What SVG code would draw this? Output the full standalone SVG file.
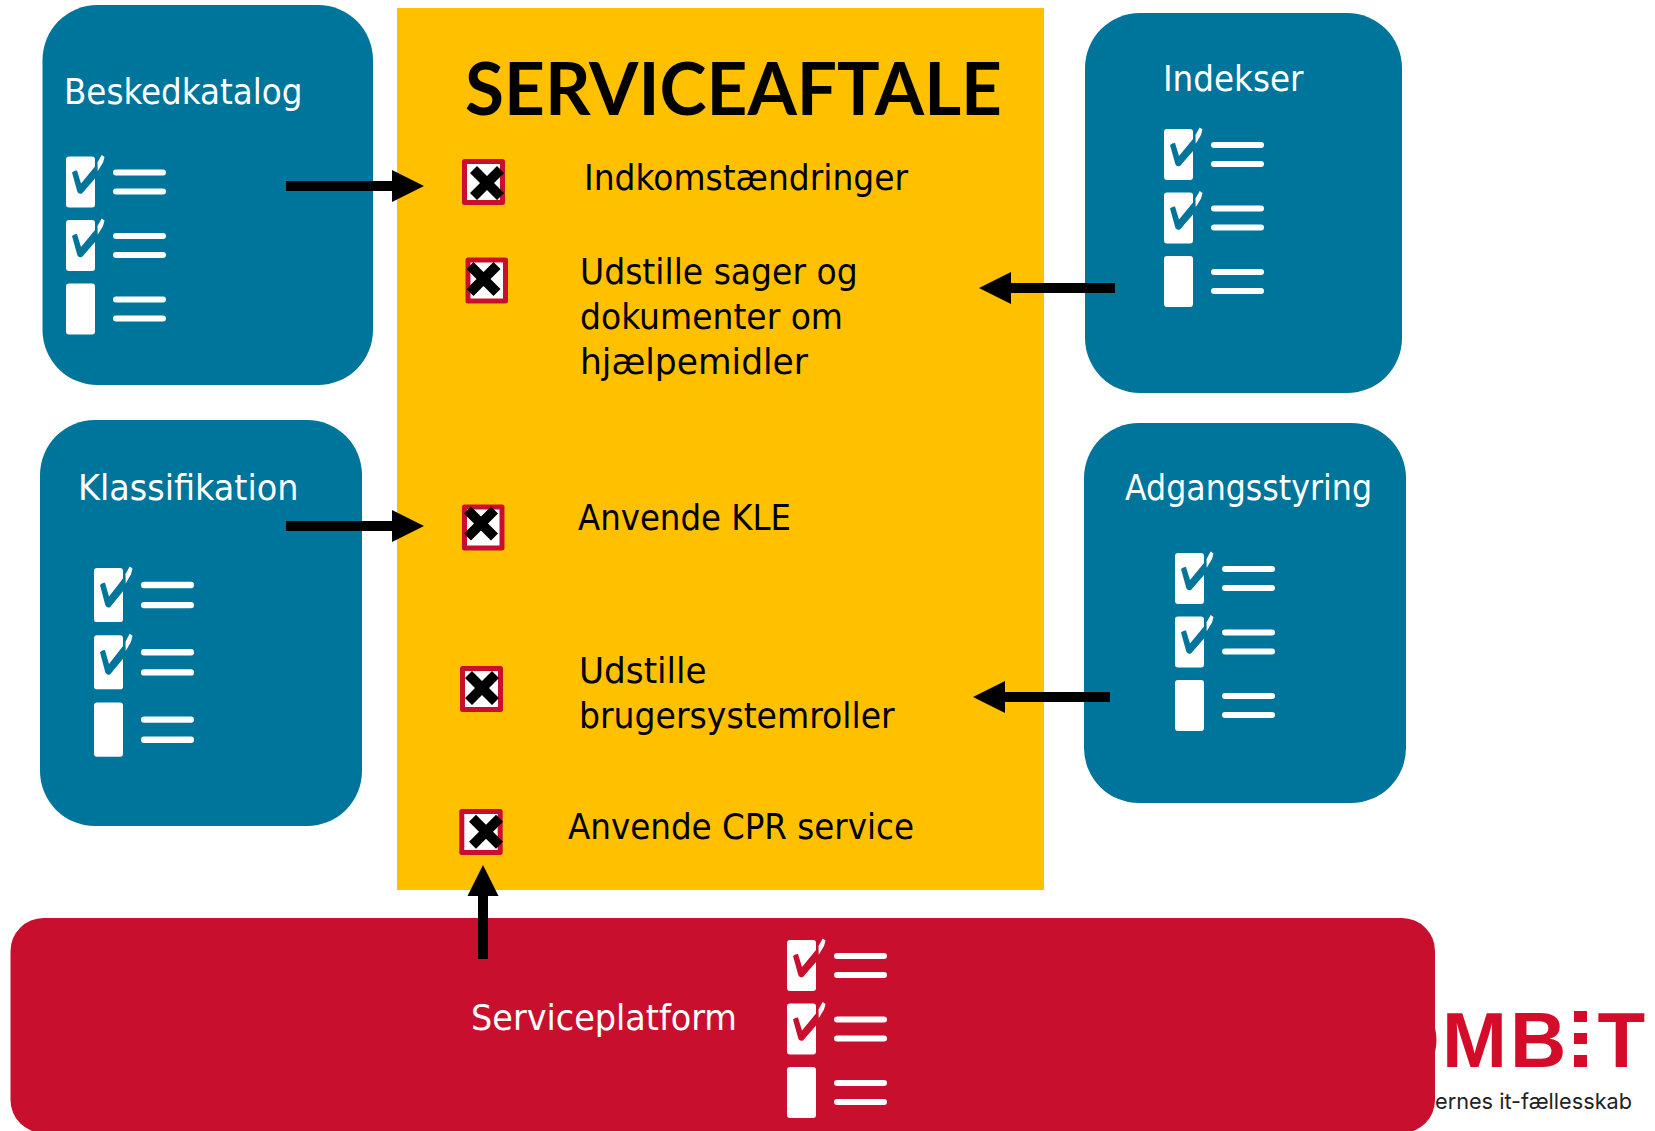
<svg xmlns="http://www.w3.org/2000/svg" width="1655" height="1131" viewBox="0 0 1655 1131">
<style>
text{font-family:"DejaVu Sans Condensed","DejaVu Sans",sans-serif;font-stretch:condensed}
.b{fill:#00759B}.r{fill:#C8102E}
.w{fill:#fff;font-size:36px}
.k{fill:#000;font-size:36px}
.t{fill:#000;font-family:Lato,sans-serif;font-stretch:normal;font-size:72px;font-weight:bold}
.cb{fill:#fff;stroke:#C8102E;stroke-width:5;stroke-linejoin:round}
.ln{stroke:#fff;stroke-width:6;stroke-linecap:round;fill:none}
.lg{font-family:"Liberation Sans",sans-serif;font-weight:bold;font-size:78px;fill:#D50B2A;font-stretch:normal}
.bar{fill:#D50B2A}
</style>
<defs>
<g id="row"><rect x="0" y="0" width="29" height="51" rx="3" fill="#fff"/><line class="ln" x1="50" y1="16" x2="97" y2="16"/><line class="ln" x1="50" y1="35" x2="97" y2="35"/></g>
<g id="tick"><path d="M6 16Q9 13.500 11 14L15 27L29 10V22L16 37Q12 38 11 34Z" fill="currentColor"/><path d="M31.700 14.700L31.500 6L35.700-1.500L38.500 0.500L37 6Z" fill="#fff"/></g>
<g id="list"><use href="#row"/><use href="#tick"/><use href="#row" y="63.500"/><use href="#tick" y="63.500"/><use href="#row" y="127"/></g>
<path id="x" d="M-17-10L-10-17L0-7L10-17L17-10L7 0L17 10L10 17L0 7L-10 17L-17 10L-7 0Z" fill="#000"/>
</defs>
<g id="logo">
<path d="M1435 1028Q1438 1040 1435 1052Z" fill="#D50B2A"/>
<text class="lg" x="1442" y="1067">M</text>
<text class="lg" x="1510" y="1067">B</text>
<rect class="bar" x="1574" y="1011" width="13" height="11"/><rect class="bar" x="1574" y="1033" width="13" height="11"/><rect class="bar" x="1574" y="1055" width="13" height="12"/>
<text class="lg" x="1597.500" y="1067">T</text>
<text x="1632" y="1109" text-anchor="end" textLength="197" lengthAdjust="spacingAndGlyphs" style="font-family:Inter,sans-serif;font-size:22px;font-stretch:normal;font-weight:400" fill="#222">ernes it-fællesskab</text>
</g>
<g id="serviceaftale">
<rect x="397" y="8" width="647" height="882" fill="#FFC000"/>
<text class="t" x="465" y="115" textLength="537" lengthAdjust="spacingAndGlyphs">SERVICEAFTALE</text>
</g>
<g id="item1"><rect class="cb" x="464.500" y="161.500" width="38" height="41"/><use href="#x" x="487" y="183"/><text class="k" x="584" y="190" textLength="324" lengthAdjust="spacingAndGlyphs">Indkomstændringer</text></g>
<g id="item2"><rect class="cb" x="468" y="260" width="37.500" height="41"/><use href="#x" x="483.500" y="279"/><text class="k" x="580" y="284" textLength="277.600" lengthAdjust="spacingAndGlyphs">Udstille sager og</text><text class="k" x="580" y="329" textLength="263" lengthAdjust="spacingAndGlyphs">dokumenter om</text><text class="k" x="580" y="374" textLength="228" lengthAdjust="spacingAndGlyphs">hjælpemidler</text></g>
<g id="item3"><rect class="cb" x="464.500" y="507" width="37.500" height="41"/><use href="#x" x="481" y="523.500"/><text class="k" x="578" y="530" textLength="213" lengthAdjust="spacingAndGlyphs">Anvende KLE</text></g>
<g id="item4"><rect class="cb" x="462.500" y="668.500" width="38" height="41"/><use href="#x" x="482" y="688"/><text class="k" x="579" y="683" textLength="127.700" lengthAdjust="spacingAndGlyphs">Udstille</text><text class="k" x="579" y="728" textLength="315.600" lengthAdjust="spacingAndGlyphs">brugersystemroller</text></g>
<g id="item5"><rect class="cb" x="461.800" y="811.500" width="38.400" height="41"/><use href="#x" x="486" y="831.700"/><text class="k" x="568" y="839" textLength="346" lengthAdjust="spacingAndGlyphs">Anvende CPR service</text></g>
<g id="beskedkatalog" color="#00759B"><rect class="b" x="42.500" y="5" width="330.500" height="380" rx="55"/><text class="w" x="64" y="104" textLength="238.500" lengthAdjust="spacingAndGlyphs">Beskedkatalog</text><use href="#list" x="66" y="156.500"/></g>
<g id="klassifikation" color="#00759B"><rect class="b" x="40" y="420" width="322" height="406" rx="55"/><text class="w" x="78" y="500" textLength="220.500" lengthAdjust="spacingAndGlyphs">Klassifikation</text><use href="#list" transform="translate(94 568) scale(1 1.06)"/></g>
<g id="indekser" color="#00759B"><rect class="b" x="1085" y="13" width="317" height="380" rx="55"/><text class="w" x="1163" y="91" textLength="140.400" lengthAdjust="spacingAndGlyphs">Indekser</text><use href="#list" x="1164" y="129"/></g>
<g id="adgangsstyring" color="#00759B"><rect class="b" x="1084" y="423" width="322" height="380" rx="55"/><text class="w" x="1125" y="500" textLength="247" lengthAdjust="spacingAndGlyphs">Adgangsstyring</text><use href="#list" x="1175" y="553"/></g>
<g id="serviceplatform" color="#C8102E"><rect class="r" x="10.500" y="918" width="1424.500" height="215" rx="33"/><text class="w" x="471" y="1030" textLength="266" lengthAdjust="spacingAndGlyphs">Serviceplatform</text><use href="#list" x="787" y="940"/></g>
<g id="connectors" fill="#000">
<path d="M286 181H392V170L424 186L392 202V191H286Z"/>
<path d="M286 521H392V510L424 526L392 542V531H286Z"/>
<path d="M1115 283H1011V272L979 288L1011 304V293H1115Z"/>
<path d="M1110 692H1005V681L973 697L1005 713V702H1110Z"/>
<path d="M478 959V896H467.500L483 865L498.500 896H488V959Z"/>
</g>
</svg>
